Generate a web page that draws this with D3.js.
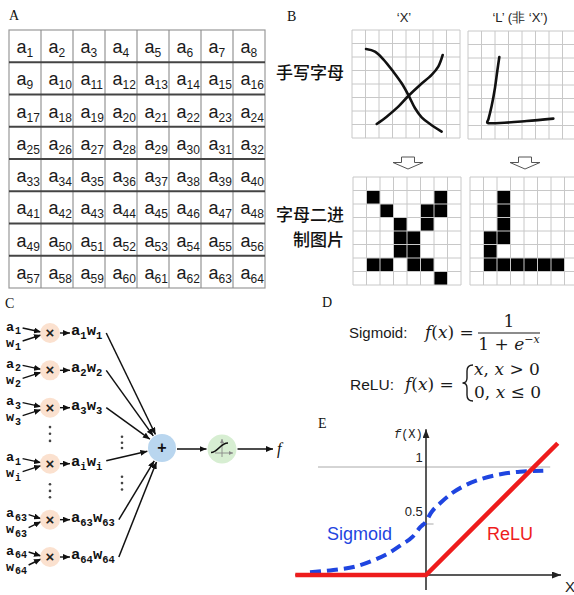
<!DOCTYPE html>
<html><head><meta charset="utf-8">
<script src="https://cdn.jsdelivr.net/npm/d3@7"></script>
<style>body{margin:0;background:#fff}svg{display:block}</style>
</head><body>
<script>
// ================= DATA =================
const panelLabels = ["A", "B", "C", "D", "E"];
// Panel A: 8x8 cell labels a1..a64
const cellNumbers = d3.range(1, 65);
// Panel B
const handTitles = ["‘X’", "‘L’ (非 ‘X’)"];
const rowLabelTop = ["手写字母"];
const rowLabelBottom = ["字母二进", "制图片"];
// handwritten strokes in grid-cell units (0..8)
const xStroke1 = [[1.04,1.41],[1.70,1.60],[2.32,2.17],[3.06,3.09],[3.68,3.95],[4.17,4.81],[4.67,5.80],[5.16,6.47],[5.78,6.96],[6.64,7.53]];
const xStroke2 = [[1.83,6.96],[2.57,6.42],[3.43,5.68],[4.17,4.89],[5.04,4.07],[5.90,3.33],[6.39,2.72],[6.72,1.85]];
const lStroke  = [[2.32,1.93],[2.17,2.96],[2.00,4.20],[1.75,5.56],[1.51,6.54],[1.43,6.79],[2.37,6.81],[4.35,6.67],[6.32,6.49]];
// binary pixels [col,row]
const xCells = [[1,1],[6,1],[2,2],[5,2],[6,2],[3,3],[5,3],[3,4],[4,4],[3,5],[4,5],[1,6],[2,6],[4,6],[5,6],[6,7]];
const lCells = [[2,1],[2,2],[2,3],[1,4],[2,4],[1,5],[1,6],[2,6],[3,6],[4,6],[5,6],[6,6]];
// Panel C
const aSubs = ["1", "2", "3", "1", "63", "64"];
const wSubs = ["1", "2", "3", "i", "63", "64"];
const pSubs = ["1", "2", "3", "i", "63", "64"];
const rowSlots = [0, 1, 2, 3.5, 5, 6];
// Panel E
const reluX = [-1.21, 0, 1.22];
const reluY = [0, 0, 1.22];
const sigX = [-1.074,-0.858,-0.657,-0.494,-0.349,-0.231,-0.123,-0.049,0,0.043,0.130,0.238,0.370,0.531,0.701,0.870,1.086];
const sigY = [0.025,0.046,0.077,0.133,0.20,0.278,0.355,0.447,0.494,0.571,0.664,0.756,0.833,0.895,0.935,0.957,0.966];
const yTickLabels = ["1", "0.5"];
const yTickValues = [1, 0.5];

// ================= DRAW =================
const W = 574, H = 595;
const SANS = "'Liberation Sans', Arial, sans-serif";
const SERIF = "'Liberation Serif', 'Times New Roman', serif";
const MATH = "'DejaVu Serif', serif";
const MONO = "'Liberation Mono', 'DejaVu Sans Mono', monospace";
const CJK = "'Noto Sans CJK SC', sans-serif";

const svg = d3.select("body").append("svg").attr("width", W).attr("height", H);
const defs = svg.append("defs");
function marker(id, w, h, color) {
  defs.append("marker").attr("id", id).attr("viewBox", `0 0 ${w} ${h}`)
    .attr("markerWidth", w).attr("markerHeight", h).attr("refX", w).attr("refY", h / 2)
    .attr("orient", "auto").attr("markerUnits", "userSpaceOnUse")
    .append("path").attr("d", `M0,0L${w},${h / 2}L0,${h}Z`).attr("fill", color);
}
marker("arr", 7, 6, "#111");
marker("arrBig", 9, 7, "#222");
marker("arrGrey", 4, 4, "#888");

// panel labels
const labelPos = [[9, 20], [287, 21], [5, 308], [322, 307], [318, 428]];
svg.selectAll("text.plabel").data(panelLabels).join("text").attr("class", "plabel")
  .attr("x", (d, i) => labelPos[i][0]).attr("y", (d, i) => labelPos[i][1])
  .attr("font-family", SERIF).attr("font-size", 14).attr("fill", "#111").text(d => d);

// ---------- Panel A ----------
{
  const g = svg.append("g");
  const ax = d3.scaleLinear().domain([0, 8]).range([9, 265]);
  const ay = d3.scaleLinear().domain([0, 8]).range([30, 288]);
  g.append("rect").attr("x", ax(0)).attr("y", ay(0)).attr("width", ax(8) - ax(0)).attr("height", ay(8) - ay(0))
    .attr("fill", "none").attr("stroke", "#999").attr("stroke-width", 1.2);
  g.selectAll("line.v").data(d3.range(1, 8)).join("line")
    .attr("x1", d => ax(d)).attr("x2", d => ax(d)).attr("y1", ay(0)).attr("y2", ay(8))
    .attr("stroke", "#8a8a8a").attr("stroke-width", 1.1);
  g.selectAll("line.h").data(d3.range(1, 8)).join("line")
    .attr("y1", d => ay(d)).attr("y2", d => ay(d)).attr("x1", ax(0)).attr("x2", ax(8))
    .attr("stroke", "#444").attr("stroke-width", 1.8);
  const t = g.selectAll("text.cell").data(cellNumbers).join("text")
    .attr("x", d => ax((d - 1) % 8) + 7.5).attr("y", d => ay(Math.floor((d - 1) / 8)) + 23)
    .attr("font-family", SANS).attr("fill", "#1a1a1a");
  t.append("tspan").attr("font-size", 18).text("a");
  t.append("tspan").attr("font-size", 12).attr("dy", 4).text(d => d);
}

// ---------- Panel B ----------
{
  const g = svg.append("g");
  g.selectAll("text.ht").data(handTitles).join("text")
    .attr("x", (d, i) => [404, 520][i]).attr("y", 22).attr("text-anchor", "middle")
    .attr("font-family", SANS).attr("font-size", 13).attr("fill", "#222").text(d => d);
  g.append("text").attr("x", 344).attr("y", 79).attr("text-anchor", "end")
    .attr("font-family", CJK).attr("font-size", 17).attr("font-weight", 500).attr("fill", "#111").text(rowLabelTop[0]);
  g.selectAll("text.rb").data(rowLabelBottom).join("text")
    .attr("x", 344).attr("y", (d, i) => [221, 246][i]).attr("text-anchor", "end")
    .attr("font-family", CJK).attr("font-size", 17).attr("font-weight", 500).attr("fill", "#111").text(d => d);

  function grid(x0, x1, y0, y1, cells, stroke) {
    const sx = d3.scaleLinear().domain([0, 8]).range([x0, x1]);
    const sy = d3.scaleLinear().domain([0, 8]).range([y0, y1]);
    const gg = g.append("g");
    if (cells) {
      gg.selectAll("rect").data(cells).join("rect")
        .attr("x", d => sx(d[0])).attr("y", d => sy(d[1]))
        .attr("width", sx(1) - sx(0)).attr("height", sy(1) - sy(0)).attr("fill", "#000");
    }
    gg.selectAll("line.v").data(d3.range(0, 9)).join("line")
      .attr("x1", d => sx(d)).attr("x2", d => sx(d)).attr("y1", sy(0)).attr("y2", sy(8))
      .attr("stroke", "#c8c8c8").attr("stroke-width", 1);
    gg.selectAll("line.h").data(d3.range(0, 9)).join("line")
      .attr("y1", d => sy(d)).attr("y2", d => sy(d)).attr("x1", sx(0)).attr("x2", sx(8))
      .attr("stroke", "#c8c8c8").attr("stroke-width", 1);
    if (stroke) {
      stroke.forEach(s => {
        gg.append("path").attr("d", d3.line().x(d => sx(d[0])).y(d => sy(d[1])).curve(d3.curveCatmullRom)(s))
          .attr("fill", "none").attr("stroke", "#111").attr("stroke-width", 2.6)
          .attr("stroke-linecap", "round").attr("stroke-linejoin", "round");
      });
    }
  }
  grid(352, 460, 30, 138, null, [xStroke1, xStroke2]);
  grid(468, 576, 31, 139, null, [lStroke]);
  grid(353, 461, 177, 285, xCells, null);
  grid(470, 578, 177, 285, lCells, null);

  // hollow arrows
  [408, 525].forEach(cx => {
    const p = `M${cx - 6.5},157 L${cx + 6.5},157 L${cx + 6.5},162.5 L${cx + 15},162.5 L${cx},169 L${cx - 15},162.5 L${cx - 6.5},162.5 Z`;
    g.append("path").attr("d", p).attr("fill", "#fff").attr("stroke", "#555").attr("stroke-width", 1);
  });
}

// ---------- Panel C ----------
{
  const g = svg.append("g");
  const cy = d3.scaleLinear().domain([0, 6]).range([333, 557]);
  const cxMul = 50, rMul = 10;
  const sum = { x: 162, y: 448, r: 14 };
  const act = { x: 222, y: 449, r: 14.5 };

  rowSlots.forEach((s, i) => {
    const y = cy(s);
    // inputs (a over w, one text element)
    const ti = g.append("text").attr("x", 6).attr("y", y - 2.5).attr("font-family", MONO).attr("font-weight", "bold").attr("fill", "#111");
    const ta = ti.append("tspan").attr("font-size", 13.5).text("a");
    const tas = ti.append("tspan").attr("font-size", 10).attr("dx", 0.8).attr("dy", 3.5).text(aSubs[i]);
    const tw = ti.append("tspan").attr("x", 6).attr("font-size", 13.5).attr("dy", 12.5).text("w");
    const tws = ti.append("tspan").attr("font-size", 10).attr("dx", 0.8).attr("dy", 3.5).text(wSubs[i]);
    const aEnd = 6 + ta.node().getComputedTextLength() + tas.node().getComputedTextLength() + 2.5;
    const wEnd = 6 + tw.node().getComputedTextLength() + tws.node().getComputedTextLength() + 2.5;
    g.append("line").attr("x1", aEnd).attr("y1", y - 5).attr("x2", 41).attr("y2", y - 1)
      .attr("stroke", "#111").attr("stroke-width", 1.4).attr("marker-end", "url(#arr)");
    g.append("line").attr("x1", wEnd).attr("y1", y + 8).attr("x2", 41).attr("y2", y + 2)
      .attr("stroke", "#111").attr("stroke-width", 1.4).attr("marker-end", "url(#arr)");
    // multiply node
    g.append("circle").attr("cx", cxMul).attr("cy", y).attr("r", rMul).attr("fill", "#fbe1cf");
    g.append("text").attr("x", cxMul).attr("y", y + 5).attr("text-anchor", "middle")
      .attr("font-family", SANS).attr("font-weight", "bold").attr("font-size", 15).attr("fill", "#222").text("×");
    g.append("line").attr("x1", 60).attr("y1", y).attr("x2", 70).attr("y2", y)
      .attr("stroke", "#111").attr("stroke-width", 1.4).attr("marker-end", "url(#arr)");
    // product
    const tp = g.append("text").attr("x", 71).attr("y", y + 2).attr("font-family", MONO).attr("font-weight", "bold").attr("fill", "#111");
    tp.append("tspan").attr("font-size", 15.5).text("a");
    tp.append("tspan").attr("font-size", 10.5).attr("dy", 4).text(pSubs[i]);
    tp.append("tspan").attr("font-size", 15.5).attr("dy", -4).text("w");
    tp.append("tspan").attr("font-size", 10.5).attr("dy", 4).text(pSubs[i]);
    const pEnd = 71 + tp.node().getComputedTextLength() + 4;
    // line to sum
    const x0 = pEnd, y0 = (i === 3 ? y - 3 : y);
    const dx = sum.x - x0, dy = sum.y - y0, L = Math.hypot(dx, dy);
    const k = (L - sum.r - 1) / L;
    g.append("line").attr("x1", x0).attr("y1", y0).attr("x2", x0 + dx * k).attr("y2", y0 + dy * k)
      .attr("stroke", "#111").attr("stroke-width", 1.5).attr("marker-end", "url(#arr)");
  });

  // vertical ellipses
  const dotSlotsLeft = [2.52, 2.70, 2.89, 4.05, 4.23, 4.40];
  const dotSlotsRight = [2.78, 2.94, 3.08, 3.85, 4.02, 4.19];
  g.selectAll("circle.dl").data(dotSlotsLeft).join("circle").attr("cx", 50).attr("cy", d => cy(d)).attr("r", 1.3).attr("fill", "#444");
  g.selectAll("circle.dr").data(dotSlotsRight).join("circle").attr("cx", 122).attr("cy", d => cy(d)).attr("r", 1.3).attr("fill", "#444");

  // sum node
  g.append("circle").attr("cx", sum.x).attr("cy", sum.y).attr("r", sum.r).attr("fill", "#b9d6ef");
  g.append("text").attr("x", sum.x).attr("y", sum.y + 5).attr("text-anchor", "middle")
    .attr("font-family", SANS).attr("font-weight", "bold").attr("font-size", 16).attr("fill", "#111").text("+");
  g.append("line").attr("x1", 177).attr("y1", 449).attr("x2", 206.5).attr("y2", 449)
    .attr("stroke", "#111").attr("stroke-width", 1.5).attr("marker-end", "url(#arr)");
  // activation node
  g.append("circle").attr("cx", act.x).attr("cy", act.y).attr("r", act.r).attr("fill", "#d7eed2");
  g.append("line").attr("x1", act.x).attr("y1", act.y + 8).attr("x2", act.x).attr("y2", act.y - 10)
    .attr("stroke", "#888").attr("stroke-width", 0.9).attr("marker-end", "url(#arrGrey)");
  g.append("line").attr("x1", act.x - 7).attr("y1", act.y + 4).attr("x2", act.x + 11).attr("y2", act.y + 4)
    .attr("stroke", "#888").attr("stroke-width", 0.9).attr("marker-end", "url(#arrGrey)");
  g.append("path").attr("d", `M${act.x - 11},${act.y + 3.5} C${act.x - 4},${act.y + 3.5} ${act.x - 2},${act.y - 6} ${act.x + 6},${act.y - 6}`)
    .attr("fill", "none").attr("stroke", "#111").attr("stroke-width", 1.6);
  g.append("line").attr("x1", 237.5).attr("y1", 449).attr("x2", 273).attr("y2", 449)
    .attr("stroke", "#111").attr("stroke-width", 1.5).attr("marker-end", "url(#arr)");
  g.append("text").attr("x", 277).attr("y", 454).attr("font-family", SERIF).attr("font-style", "italic")
    .attr("font-size", 16).attr("fill", "#111").text("f");
}

// ---------- Panel D ----------
{
  const g = svg.append("g").attr("fill", "#1a1a1a");
  g.append("text").attr("x", 349).attr("y", 338).attr("font-family", SANS).attr("font-size", 15).text("Sigmoid:");
  g.append("text").attr("x", 350).attr("y", 390).attr("font-family", SANS).attr("font-size", 15.5).text("ReLU:");
  function fx(x, y) {
    const t = g.append("text").attr("x", x).attr("y", y).attr("font-family", MATH).attr("font-size", 17);
    t.append("tspan").attr("font-style", "italic").text("f");
    t.append("tspan").text("(");
    t.append("tspan").attr("font-style", "italic").text("x");
    t.append("tspan").text(") =");
  }
  fx(425, 338);
  fx(405, 390);
  g.append("line").attr("x1", 478).attr("x2", 540).attr("y1", 333).attr("y2", 333).attr("stroke", "#1a1a1a").attr("stroke-width", 1.2);
  g.append("text").attr("x", 509).attr("y", 327).attr("text-anchor", "middle").attr("font-family", MATH).attr("font-size", 17).text("1");
  const den = g.append("text").attr("x", 509).attr("y", 350).attr("text-anchor", "middle").attr("font-family", MATH).attr("font-size", 17);
  den.append("tspan").text("1 + ");
  den.append("tspan").attr("font-style", "italic").text("e");
  den.append("tspan").attr("font-size", 11).attr("dy", -7).attr("font-style", "italic").text("−x");
  // brace
  g.append("path").attr("d", "M473,365 Q467,365 467,371 L467,378 Q467,383 462.5,383 Q467,383 467,388 L467,395 Q467,401 473,401")
    .attr("fill", "none").attr("stroke", "#1a1a1a").attr("stroke-width", 1.4);
  const c1 = g.append("text").attr("x", 474).attr("y", 375).attr("font-family", MATH).attr("font-size", 17);
  c1.append("tspan").attr("font-style", "italic").text("x");
  c1.append("tspan").text(", ");
  c1.append("tspan").attr("font-style", "italic").text("x");
  c1.append("tspan").text(" > 0");
  const c2 = g.append("text").attr("x", 474).attr("y", 398).attr("font-family", MATH).attr("font-size", 17);
  c2.append("tspan").text("0, ");
  c2.append("tspan").attr("font-style", "italic").text("x");
  c2.append("tspan").text(" ≤ 0");
}

// ---------- Panel E ----------
{
  const g = svg.append("g");
  const ex = d3.scaleLinear().domain([0, 1]).range([426, 534]);
  const ey = d3.scaleLinear().domain([0, 1]).range([575, 467]);
  // y = 1 reference line
  g.append("line").attr("x1", ex(-1.0)).attr("x2", ex(1.15)).attr("y1", ey(1)).attr("y2", ey(1))
    .attr("stroke", "#aaa").attr("stroke-width", 1);
  g.append("line").attr("x1", ex(-0.05)).attr("x2", ex(0.07)).attr("y1", ey(0.5) + 3).attr("y2", ey(0.5) + 3)
    .attr("stroke", "#aaa").attr("stroke-width", 1);
  // axes
  g.append("line").attr("x1", ex(0)).attr("x2", ex(0)).attr("y1", ey(-0.14)).attr("y2", ey(1.35))
    .attr("stroke", "#222").attr("stroke-width", 1.5).attr("marker-end", "url(#arrBig)");
  g.append("line").attr("x1", ex(-1.21)).attr("x2", ex(1.25)).attr("y1", ey(0)).attr("y2", ey(0))
    .attr("stroke", "#222").attr("stroke-width", 1.5).attr("marker-end", "url(#arrBig)");
  // tick labels
  g.selectAll("text.yt").data(yTickLabels).join("text")
    .attr("x", ex(-0.03)).attr("y", (d, i) => ey(yTickValues[i]) - 5).attr("text-anchor", "end")
    .attr("font-family", SANS).attr("font-size", 13).attr("fill", "#222").text(d => d);
  g.append("text").attr("x", ex(-0.03)).attr("y", 438).attr("text-anchor", "end")
    .attr("font-family", MONO).attr("font-size", 12).attr("fill", "#222")
    .call(t => { t.append("tspan").attr("font-style", "italic").text("f"); t.append("tspan").text("(X)"); });
  g.append("text").attr("x", 565).attr("y", 592).attr("font-family", SANS).attr("font-size", 15).attr("fill", "#222").text("X");
  // sigmoid (dashed)
  const sig = sigX.map((x, i) => [x, sigY[i]]);
  g.append("path").attr("d", d3.line().x(d => ex(d[0])).y(d => ey(d[1])).curve(d3.curveMonotoneX)(sig))
    .attr("fill", "none").attr("stroke", "#1f45e0").attr("stroke-width", 4).attr("stroke-dasharray", "11,6");
  // relu
  const relu = reluX.map((x, i) => [x, reluY[i]]);
  g.append("path").attr("d", d3.line().x(d => ex(d[0])).y(d => ey(d[1]))(relu))
    .attr("fill", "none").attr("stroke", "#ee1c1c").attr("stroke-width", 4.5);
  g.append("text").attr("x", 327).attr("y", 540).attr("font-family", SANS).attr("font-size", 18).attr("fill", "#1f45e0").text("Sigmoid");
  g.append("text").attr("x", 487).attr("y", 540).attr("font-family", SANS).attr("font-size", 18).attr("fill", "#ee1c1c").text("ReLU");
}
</script>
</body></html>
